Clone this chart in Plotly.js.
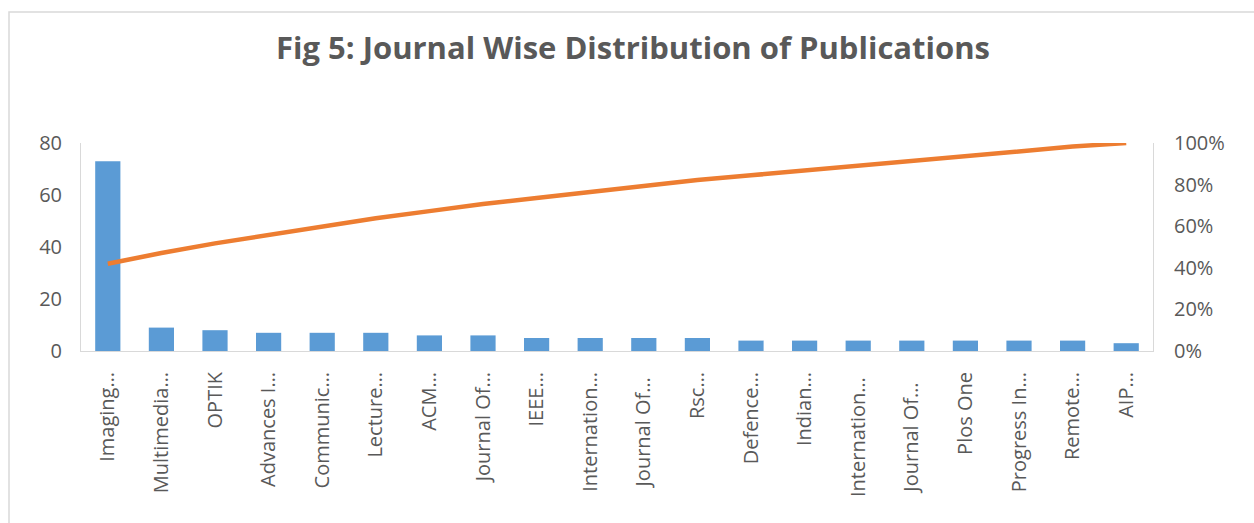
<!DOCTYPE html>
<html>
<head>
<meta charset="utf-8">
<script src="https://cdn.plot.ly/plotly-3.0.1.min.js"></script>
<style>
  html, body { margin: 0; padding: 0; background: #ffffff; }
  #chart { width: 1254px; height: 523px; }
</style>
</head>
<body>
<div id="chart"></div>
<script>
// Journals, in descending order of publication count (labels truncated as on the axis)
const journals = [
  "Imaging…", "Multimedia…", "OPTIK", "Advances I…", "Communic…",
  "Lecture…", "ACM…", "Journal Of…", "IEEE…", "Internation…",
  "Journal Of… ", "Rsc…", "Defence…", "Indian…", "Internation… ",
  "Journal Of…  ", "Plos One", "Progress In…", "Remote…", "AIP…"
];

// Number of publications per journal
const publications = [73, 9, 8, 7, 7, 7, 6, 6, 5, 5, 5, 5, 4, 4, 4, 4, 4, 4, 4, 3];

// Axis tick values
const countTicks = [0, 20, 40, 60, 80];
const shareTicks = [0, 0.2, 0.4, 0.6, 0.8, 1.0];

// Cumulative share of publications (Pareto line)
const total = publications.reduce((a, b) => a + b, 0);
const cumulativeShare = [];
publications.reduce((run, v) => {
  const next = run + v;
  cumulativeShare.push(next / total);
  return next;
}, 0);

const W = 1254, H = 523;
const margin = { l: 81, r: 101, t: 143, b: 172, pad: 0 };
const plotW = W - margin.l - margin.r;
const plotH = H - margin.t - margin.b;

const textGray = "#595959";
const axisGray = "#d9d9d9";
const labelFont = { family: "Open Sans, sans-serif", size: 20, color: textGray };

const bars = {
  type: "bar",
  x: journals,
  y: publications,
  marker: { color: "#5B9BD5", line: { width: 0 } },
  hoverinfo: "x+y"
};

const pareto = {
  type: "scatter",
  mode: "lines",
  x: journals,
  y: cumulativeShare,
  yaxis: "y2",
  line: { color: "#ED7D31", width: 4.5 },
  hoverinfo: "x+y"
};

// Chart border (left and top edges lie inside the page)
const bx0 = (9 - margin.l) / plotW;
const by1 = 1 + (margin.t - 12) / plotH;

const layout = {
  width: W,
  height: H,
  margin: margin,
  paper_bgcolor: "#ffffff",
  plot_bgcolor: "#ffffff",
  showlegend: false,
  bargap: 0.53,
  title: {
    text: "Fig 5: Journal Wise Distribution of Publications",
    font: { family: "Open Sans, sans-serif", size: 31, color: textGray, weight: 700 },
    x: 633 / W,
    xanchor: "center",
    xref: "container",
    y: 1 - 48 / H,
    yanchor: "middle",
    yref: "container"
  },
  xaxis: {
    type: "category",
    tickangle: -90,
    tickfont: labelFont,
    showgrid: false,
    zeroline: false,
    showline: true,
    linecolor: axisGray,
    linewidth: 1,
    ticks: "",
    ticklabelstandoff: 12,
    fixedrange: true
  },
  yaxis: {
    range: [0, 80],
    tickvals: countTicks,
    tickfont: labelFont,
    showgrid: false,
    zeroline: false,
    showline: true,
    linecolor: axisGray,
    linewidth: 1,
    ticks: "",
    ticklabelstandoff: 14,
    fixedrange: true
  },
  yaxis2: {
    overlaying: "y",
    side: "right",
    range: [0, 1],
    tickvals: shareTicks,
    tickformat: ".0%",
    tickfont: labelFont,
    showgrid: false,
    zeroline: false,
    showline: true,
    linecolor: axisGray,
    linewidth: 1,
    ticks: "",
    ticklabelstandoff: 16,
    fixedrange: true
  },
  shapes: [
    {
      type: "rect",
      xref: "paper", yref: "paper",
      x0: bx0, x1: 1.3, y0: -1.5, y1: by1,
      line: { color: "#d9d9d9", width: 1.5 },
      fillcolor: "rgba(0,0,0,0)",
      layer: "below"
    }
  ]
};

Plotly.newPlot("chart", [bars, pareto], layout, { displayModeBar: false, staticPlot: true });
</script>
</body>
</html>
